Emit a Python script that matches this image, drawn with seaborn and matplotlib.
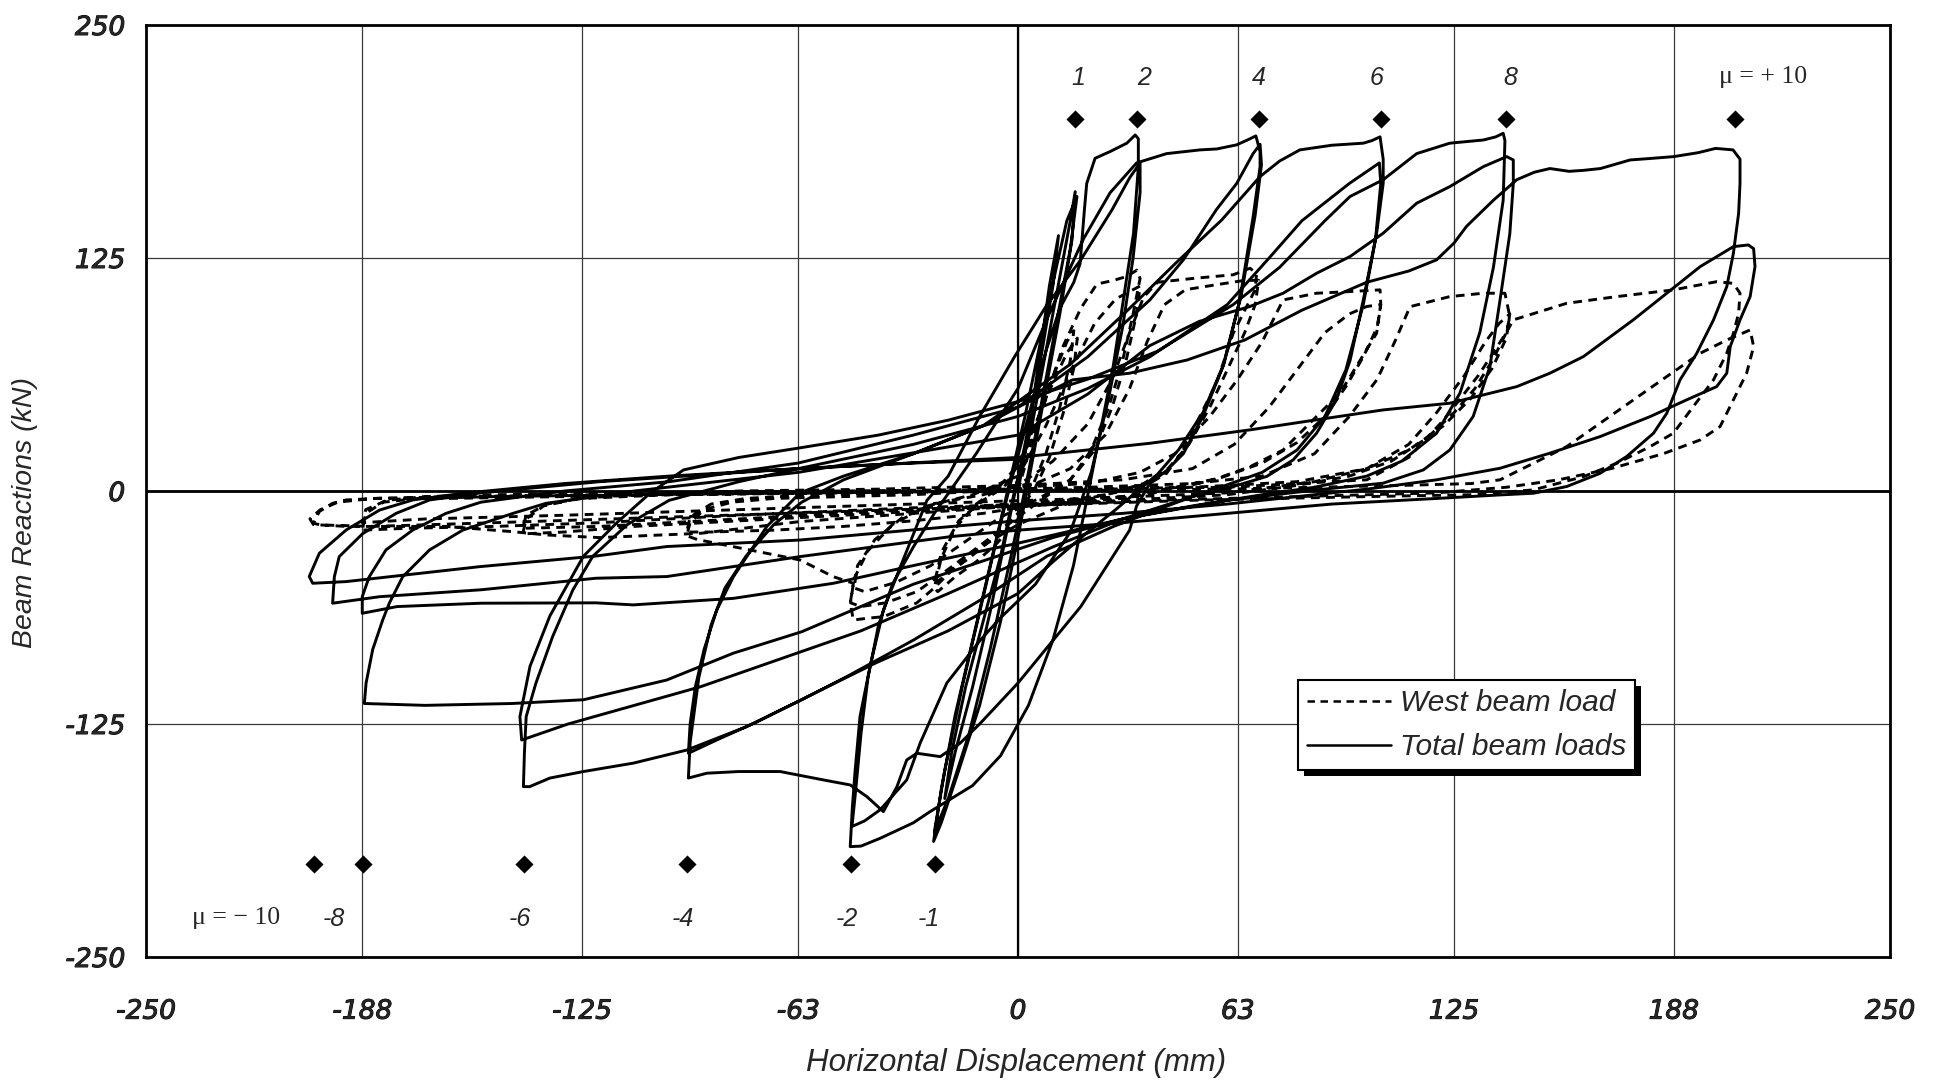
import matplotlib
matplotlib.use("Agg")
import matplotlib.pyplot as plt
import matplotlib.patheffects as pe
import pandas as pd
import seaborn as sns
from matplotlib.lines import Line2D
from matplotlib.patches import Rectangle
from matplotlib.transforms import IdentityTransform

# ---------------- axis values ----------------
x_ticks = [-250, -188, -125, -63, 0, 63, 125, 188, 250]
y_ticks = [-250, -125, 0, 125, 250]

# ductility targets (mm) marked with diamonds
mu_pos_x = [16.4, 34.2, 69.1, 104.1, 139.9, 205.7]
mu_pos_labels = ["1", "2", "4", "6", "8", "\u03bc = + 10"]
mu_neg_x = [-23.8, -48.0, -94.9, -141.7, -187.9, -201.9]
mu_neg_labels = ["-1", "-2", "-4", "-6", "-8", "\u03bc = \u2212 10"]
mu_pos_level = 199.4
mu_neg_level = -200.3

# ---------------- total beam loads (displacement mm, load kN) ----------------
total_mu1 = [
    (0, 0), (3, 30), (6, 70), (9, 110), (11.6, 137), (10, 110), (6, 65), (2, 25), (-3, -20), (-8, -65),
    (-13, -105), (-18, -140), (-21, -165), (-19, -140), (-15, -105), (-10, -70), (-5, -35), (-1, 0),
    (4, 35), (8, 75), (12, 115), (15, 145), (16.4, 160.6), (15.5, 135), (12, 95), (8, 55), (4, 15),
    (0, -25), (-5, -70), (-11, -115), (-17, -150), (-22, -178), (-24.2, -188), (-22, -160), (-18, -120),
    (-13, -80), (-8, -40), (-3, 0), (2, 40), (7, 85), (11, 120), (14, 145), (16.9, 158), (15, 130),
    (11, 90), (7, 50), (3, 10), (-2, -35), (-8, -85), (-14, -130), (-20, -165), (-24, -183),
]
total_mu2 = [
    (-21, -150), (-16, -105), (-11, -65), (-6, -25), (-2, 5), (3, 40), (8, 75), (12, 98), (16, 112),
    (17.8, 122), (19, 150), (19.7, 165), (22.1, 178.5), (26.4, 182.1), (31.2, 186.6), (33.6, 191), (34.5, 189),
    (34.5, 174), (33.1, 138), (30.2, 102.5), (27.3, 67), (23.5, 31), (19.7, -5), (15.9, -40), (10, -80),
    (3, -115), (-5, -142), (-13, -158), (-20, -166), (-25.2, -172), (-30, -178), (-39.5, -186.3),
    (-45, -190.5), (-48.1, -190.8),
    (-47.5, -170), (-46.7, -150), (-45.3, -121), (-42.4, -94), (-38.6, -64), (-33.8, -41), (-26.1, -5), (-20, 8),
    (-11, 40), (-1, 72), (8, 99), (18, 124), (27, 151), (32, 168), (35, 176),
    (35, 160), (33, 125), (30, 88), (26, 50), (21, 10), (15, -22), (5, -50), (-5, -68), (-10.8, -80),
    (-20.4, -103), (-28, -135), (-31.9, -155), (-39.5, -171), (-44, -177), (-47.6, -180),
    (-46.5, -160), (-45, -130), (-43, -100), (-40, -72), (-36, -50), (-30, -30), (-24, -12),
]
total_mu4 = [
    (-12, 20), (0, 55), (8.2, 92), (18.7, 135), (26.4, 160), (34, 176), (42.6, 181), (52.2, 183),
    (57, 183.5), (62.7, 185.7), (66, 188.5), (68.2, 190.5),
    (69.4, 182), (69.4, 174), (67.4, 147), (63.6, 102.5), (58.8, 67), (53, 40), (47.4, 20), (42.6, 11),
    (37.8, 4), (34, -8), (32, -21), (18, -62), (0, -103), (-10.8, -124.6), (-16.6, -135.3), (-22.3, -142.5),
    (-29, -140.7), (-31.9, -144.3), (-34.7, -158.6), (-38.6, -172), (-43.3, -164), (-48.1, -157.7),
    (-55.8, -155), (-68.2, -150.5), (-80, -150.5), (-89.2, -151.4), (-94.5, -154),
    (-94, -135), (-93, -121), (-91.5, -100), (-88, -72), (-84, -52), (-78, -35), (-70, -18), (-62, -6), (-50, 6),
    (-30, 20), (-10, 35), (0, 45), (20, 72), (37.8, 102.5), (47.4, 124), (56.9, 151), (62.7, 165),
    (67.4, 181), (69.4, 186),
    (69.8, 175), (68, 148), (64, 105), (59, 68), (53, 42), (46, 22), (40, 9), (33, -2), (28, -10), (20, -22),
    (10, -38), (0, -55), (-20, -75), (-40.5, -92), (-60, -110), (-75, -124), (-86.4, -133.6), (-94.5, -140.7),
    (-94, -125), (-92.5, -105), (-90, -85), (-86.4, -64), (-81.6, -46), (-72, -19), (-62.5, -1), (-50, 8),
]
total_mu6 = [
    (-30, 20), (-10, 35), (0, 48), (15, 68), (32, 98), (45.2, 122.2), (58.4, 145.4), (69.4, 168.7),
    (75, 177), (80.8, 183), (90, 185.5), (99, 186.6), (101.5, 188), (103.8, 190),
    (104.7, 178), (104.7, 165), (102.8, 138), (99, 102.5), (95.2, 70), (91.3, 49), (85.6, 31), (78.9, 16.7),
    (71.3, 7.8), (61.7, 2.4), (50, -3), (40, -10), (27.4, -19), (8.3, -35), (-10.8, -58.5), (-30, -80),
    (-49.1, -99.6), (-62, -112), (-77.8, -126.4), (-95, -139), (-110.3, -146), (-124.6, -150.5),
    (-134.2, -154), (-140, -158.6), (-141.8, -158.6),
    (-141.5, -140), (-141, -121), (-138.2, -103), (-133.4, -78), (-127.6, -53), (-121.9, -35), (-112, -18),
    (-100, -5), (-80, 5),
    (-63, 12), (-30, 25), (0, 40), (20, 55), (37.8, 72), (60, 100), (72, 125), (81.4, 145), (95, 165), (103.6, 176),
    (104, 165), (102.5, 135), (99, 100), (94, 65), (88, 40), (80, 22), (70, 10), (58, 2), (45, -6), (30, -15),
    (10, -30), (-20, -55), (-45, -75), (-68, -90), (-91, -105), (-110, -115), (-129, -125), (-142.3, -133.6),
    (-142.8, -121), (-139.9, -94), (-134.2, -67), (-124.6, -35), (-115, -17), (-105.5, -1.2), (-95.9, 11.3), (-80, 18),
]
total_mu8 = [
    (-63, 23), (-40, 30), (-20, 38), (0, 48), (20, 60), (40, 75), (61.7, 100), (75, 120), (88, 145),
    (95.2, 158), (104.7, 167), (114.3, 181), (123.8, 186.6), (133.4, 188.3), (137, 190), (139.1, 191.9),
    (139.6, 188), (139.1, 156), (136.3, 120), (132.4, 85), (126.7, 52.5), (120, 31), (110, 16), (100, 8),
    (85, 2), (70, -2), (50, -8), (30, -15), (10, -25), (-30, -50), (-62, -75.5), (-81.6, -87), (-100.7, -101.4),
    (-124.6, -112), (-145, -114), (-170, -115), (-187.4, -114),
    (-186.9, -103), (-185, -85), (-182.1, -69), (-180.2, -60), (-176.4, -46), (-168.7, -31.6), (-159.2, -21),
    (-144.8, -12), (-135.3, -6.6), (-110, 0), (-63, 10),
    (0, 30), (20, 52), (37.8, 78), (52, 91), (66.5, 99), (76, 106.1), (85.6, 116.8), (95.2, 125.8),
    (104.7, 138.3), (114.3, 154.4), (123.8, 163.3), (133.4, 174), (140.1, 179.4), (142, 177.6),
    (142, 165), (141, 138), (138.2, 102.5), (135.3, 66.8), (130.5, 40), (123.8, 22), (116.2, 11.3),
    (104.7, 4.2), (85.6, 0.6), (60, -5), (30, -15), (0, -28), (-30, -40), (-52.9, -49.5), (-81.6, -57.6),
    (-110.3, -61.1), (-121, -60), (-154, -60.2), (-178, -62), (-188, -65.6),
    (-188, -56.7), (-186, -46), (-181.2, -31.6), (-173.5, -20.9), (-164, -12), (-154, -6), (-130, 0),
    (-100, 5), (-63, 15), (-30, 30), (0, 45),
]
total_mu10 = [
    (15.6, 59.6), (32, 63.2), (48.5, 70.3), (65, 81), (81.4, 97), (100, 112), (112, 118), (120, 124),
    (125, 133), (128.6, 142), (136.3, 156), (143, 167), (148, 171), (152.5, 173), (158, 171.5), (162, 172),
    (167, 173), (175.5, 177.6), (182, 178.5), (188, 179.4), (195, 181.5), (200, 183.8), (205, 183), (207, 178),
    (207, 165), (206.6, 149), (205.1, 127.5), (203.2, 109.6), (199.4, 91.8), (194.6, 73.9), (189.8, 59.6), (186, 41.7),
    (182.2, 31), (174.5, 18.5), (166.9, 9.5), (157.3, 2.4), (147.8, -1.2), (138.2, -2.1), (120, -4), (90, -7),
    (60, -12), (30, -17), (0, -21), (-19.4, -24.5), (-62.5, -35.2), (-100.7, -45.9), (-121, -46.8),
    (-154, -53), (-183, -56.7), (-196.5, -60.2),
    (-196, -46), (-194.6, -35.2), (-187.9, -22.9), (-178.3, -12), (-168.7, -4.8), (-154, -1), (-120, 5),
    (-63, 12), (0, 18),
    (37.8, 25.6), (66.5, 32.8), (85.6, 38.2), (104.7, 43.5), (123.8, 47.1), (143, 56), (152.5, 63.2),
    (162.1, 72.1), (176.4, 91.8), (186, 106.1), (195.6, 120.4), (205.1, 131.1), (209.4, 132), (210.9, 130),
    (211.3, 120.4), (209.9, 104.3), (207, 91.8), (204.2, 77.5), (203.2, 63.2), (200.3, 56), (191.7, 48.9),
    (181.2, 39.9), (166.9, 29.2), (152.5, 20.3), (138.2, 12.2), (120, 6), (100, 1), (80, -3), (60, -7),
    (30, -12), (0, -16), (-19.4, -19.1), (-62.5, -26.3), (-100.7, -29.8), (-121, -34.9), (-154.4, -40.6),
    (-192.6, -48.6), (-202.2, -49.5), (-203.2, -45.9),
    (-200.3, -33.4), (-192.6, -20.9), (-183, -10.2), (-173.5, -4.8), (-159, -1.2), (-130, 4), (-100, 8),
    (-63, 12), (-30, 15), (0, 17),
]

# ---------------- west beam load ----------------
west_mu1 = [
    (0, 0), (3, 20), (7, 45), (11, 66), (14, 80), (16, 86), (15, 70), (12, 45), (8, 20), (4, 2), (0, -15),
    (-6, -28), (-12, -38), (-18, -46), (-23, -54), (-24, -52), (-22, -36), (-18, -20), (-12, -7), (-6, 1),
    (0, 14), (5, 36), (10, 58), (14, 74), (17, 82), (16, 66), (13, 42), (9, 18), (5, 2), (0, -12), (-7, -25),
    (-14, -36), (-20, -44), (-24, -50), (-22, -33), (-17, -16), (-10, -5), (-4, 2),
]
west_mu2 = [
    (2, 20), (8, 50), (13, 78), (18, 98), (22.6, 111), (27.4, 113), (31, 115), (34.1, 118.5), (35, 114),
    (33, 95), (30, 70), (26, 45), (21, 22), (15, 6), (8, -3), (0, -14), (-10, -28), (-20, -42), (-29, -54),
    (-38, -60), (-45, -62), (-48, -60), (-47, -47), (-43, -32), (-36, -18), (-26, -8), (-13, -2), (0, 8),
    (8, 35), (15, 64), (22, 90), (28, 103), (35, 110), (34, 95), (31, 70), (27, 45), (22, 22), (15, 6),
    (6, -4), (-5, -14), (-15, -27), (-25, -40), (-35, -49), (-44, -54), (-47, -52), (-46, -40), (-41, -26),
    (-33, -14), (-22, -6), (-10, -2),
]
west_mu4 = [
    (0, 3), (10, 16), (20, 36), (27, 60), (32, 85), (36, 104), (40, 112), (50, 114), (61.7, 116),
    (66.5, 119.5), (68.4, 116.8), (68, 108), (66.5, 102.5), (61.7, 84.6), (56.9, 57.8), (52.1, 40),
    (47.4, 22), (42.6, 9.5), (37.8, 4.2), (30, 0), (15, -6), (0, -18), (-15, -35), (-24, -52), (-29, -60),
    (-38.5, -67.4), (-43.3, -68.3), (-47.2, -69.2), (-48.1, -60.2), (-47.2, -49.5), (-52.9, -46),
    (-62.5, -37), (-81.6, -29.9), (-92, -26), (-95, -24), (-94, -17), (-90, -10), (-82, -6), (-70, -4),
    (-50, -3), (-30, -2), (-10, 0), (5, 4), (15, 12), (25, 30), (32, 55), (37, 80), (42, 100), (48, 108),
    (58, 111), (65, 113), (69, 113), (68, 100), (65, 85), (60, 65), (55, 45), (49, 25), (43, 12), (36, 4),
    (25, -2), (10, -6), (-10, -12), (-30, -16), (-50, -19), (-70, -21), (-88, -22), (-95, -22), (-94, -14),
    (-88, -7), (-78, -4), (-60, -2), (-40, -1),
]
west_mu6 = [
    (-20, 0), (0, 2), (20, 4), (35, 10), (45, 20), (55, 40), (63, 60), (70, 80), (76, 102.5), (85.6, 106.1),
    (95.2, 107), (103.8, 107.9), (104, 100), (102.8, 84.6), (97, 66.8), (92.3, 52.5), (85.6, 40), (76, 22),
    (66.5, 13), (56, 6), (45, 1), (30, -4), (0, -8), (-40, -12), (-80, -16), (-110, -19), (-130, -22),
    (-142, -23), (-141, -15), (-136, -8), (-126, -4), (-110, -2), (-80, 0), (-40, 1), (0, 3), (30, 6),
    (50, 12), (62, 25), (72, 45), (80, 65), (88, 85), (95, 95), (100, 99), (104, 100), (103, 88), (99, 72),
    (94, 56), (88, 40), (80, 26), (70, 15), (58, 7), (45, 2), (30, -3), (0, -7), (-40, -11), (-80, -15),
    (-120, -19), (-142, -20), (-141, -13), (-135, -7), (-125, -4), (-100, -2),
]
west_mu8 = [
    (-60, -1), (-20, 0), (20, 2), (50, 4), (70, 8), (85, 20), (95, 40), (103, 60), (108, 80), (112.4, 98.9),
    (123.8, 104.3), (133.4, 106.1), (139.6, 106.1), (141, 93.6), (140, 85), (136, 70), (131, 55), (125, 42),
    (117, 28), (107, 16), (95, 8), (80, 3), (60, -2), (20, -6), (-30, -9), (-80, -13), (-120, -17),
    (-150, -19), (-175, -20), (-188, -21), (-187, -12), (-182, -6), (-172, -4), (-150, -3), (-110, -2),
    (-60, -1), (0, 0), (50, 2), (80, 5), (100, 12), (112, 25), (120, 42), (128, 62), (134, 80), (138, 90),
    (141, 95), (140, 82), (136, 66), (130, 50), (122, 35), (112, 22), (100, 12), (85, 5), (60, -1), (20, -4),
    (-30, -7), (-80, -10), (-130, -13), (-170, -15), (-188, -17), (-187, -10), (-181, -5), (-170, -3), (-150, -2),
]
west_mu10 = [
    (-110, -1), (-50, 0), (0, 1), (60, 2), (100, 6), (112, 18), (122, 38), (132, 62), (140, 85), (142, 91.8),
    (157.3, 100.7), (171.7, 104.3), (187.9, 107.9), (200.3, 112.3), (205.1, 111.4), (207, 106.1),
    (206.6, 95.3), (205.1, 84.6), (203.2, 73.9), (199.4, 59.6), (193.6, 45.3), (187.9, 31), (181.2, 23.8),
    (171.7, 14.9), (162.1, 7.7), (147.8, 0.6), (130, -2), (100, -3), (50, -5), (0, -8), (-50, -11),
    (-100, -14), (-150, -17), (-185, -19), (-200, -18.2), (-202, -17.3), (-200.3, -11), (-196.5, -6.6),
    (-192.6, -4.8), (-183, -3.9), (-164, -4), (-130, -3), (-100, -2), (-50, -1), (0, 0), (60, 1), (110, 3),
    (130, 4), (138.2, 6), (147.8, 14.9), (157.3, 23.8), (166.9, 36.4), (176.4, 48.9), (186, 61.4),
    (195.6, 73.9), (203.2, 81), (209.9, 86.4), (210.9, 77.5), (208.9, 63.2), (205.1, 48.9), (201.3, 34.6),
    (195.6, 27.4), (185, 20), (170, 12), (155, 6), (140, 2), (120, -1), (80, -3), (40, -5), (0, -8),
    (-30, -12), (-62.5, -16.4), (-91, -22.7), (-120, -25), (-135, -23.6), (-145, -21.8), (-164, -19),
    (-192.6, -19), (-202, -18), (-203, -15), (-200, -10), (-195, -6), (-185, -4), (-160, -3), (-120, -2),
]


def as_frame(*blocks):
    pts = [p for block in blocks for p in block]
    return pd.DataFrame({"disp": [p[0] for p in pts], "load": [p[1] for p in pts]})


total_df = as_frame(total_mu1, total_mu2, total_mu4, total_mu6, total_mu8, total_mu10)
west_df = as_frame(west_mu1, west_mu2, west_mu4, west_mu6, west_mu8, west_mu10)

# ---------------- styling ----------------
sns.set_theme(style="white")
plt.rcParams["font.family"] = ["Liberation Sans", "DejaVu Sans"]
plt.rcParams["axes.unicode_minus"] = False

W, H = 1939, 1087
fig = plt.figure(figsize=(W / 100, H / 100), dpi=100)
fig.patch.set_facecolor("white")
ax = fig.add_axes([146 / W, 1 - 957 / H, 1744 / W, 932 / H])
ax.set_facecolor("white")

DASH = (0, (3.0, 2.2))
LW = 2.1
sns.lineplot(data=west_df, x="disp", y="load", sort=False, estimator=None,
             color="black", lw=LW, linestyle=DASH, ax=ax, zorder=3)
sns.lineplot(data=total_df, x="disp", y="load", sort=False, estimator=None,
             color="black", lw=LW, ax=ax, zorder=3)

# ductility markers
sns.scatterplot(x=mu_pos_x, y=[mu_pos_level] * len(mu_pos_x), marker="D", s=85,
                color="black", edgecolor="black", linewidth=0, ax=ax, zorder=4)
sns.scatterplot(x=mu_neg_x, y=[mu_neg_level] * len(mu_neg_x), marker="D", s=85,
                color="black", edgecolor="black", linewidth=0, ax=ax, zorder=4)

pos_text_x = [17.2, 36.2, 69.1, 102.8, 141.0, 213.5]
neg_text_x = [-25.5, -49.2, -96.1, -142.7, -196.2, -224.2]
for xv, lab in zip(pos_text_x, mu_pos_labels):
    if lab.startswith("\u03bc"):
        ax.text(xv, 222, lab, ha="center", va="center", fontsize=18.5, family="Liberation Serif")
    else:
        ax.text(xv, 221.5, lab, ha="center", va="center", fontsize=18, style="italic")
for xv, lab in zip(neg_text_x, mu_neg_labels):
    if lab.startswith("\u03bc"):
        ax.text(xv, -229, lab, ha="center", va="center", fontsize=18.5, family="Liberation Serif")
    else:
        ax.text(xv, -229.5, lab, ha="center", va="center", fontsize=18, style="italic")

# axes, grid
ax.set_xlim(-250, 250)
ax.set_ylim(-250, 250)
ax.set_xticks(x_ticks)
ax.set_yticks(y_ticks)
ax.set_xticklabels([str(v) for v in x_ticks])
ax.set_yticklabels([str(v) for v in y_ticks])
ax.set_axisbelow(True)
ax.grid(True, color="#3a3a3a", lw=0.9)
ax.axhline(0, color="black", lw=2.0, zorder=1.5)
ax.axvline(0, color="black", lw=1.6, zorder=1.5)
for sp in ax.spines.values():
    sp.set_visible(True)
    sp.set_color("black")
    sp.set_linewidth(2.0)
ax.tick_params(axis="both", length=0)
ax.tick_params(axis="x", pad=30)
ax.tick_params(axis="y", pad=15)
semi_bold = [pe.withStroke(linewidth=0.7, foreground="black")]
for lab in ax.get_xticklabels() + ax.get_yticklabels():
    lab.set_family("DejaVu Sans")
    lab.set_style("italic")
    lab.set_fontsize(19)
    lab.set_path_effects(semi_bold)
ax.set_xlabel("")
ax.set_ylabel("")

fig.text(1016 / W, 1 - 1063 / H, "Horizontal Displacement (mm)", ha="center", va="center",
         fontsize=22.5, style="italic")
fig.text(25 / W, 1 - 513 / H, "Beam Reactions (kN)", ha="center", va="center",
         rotation=90, fontsize=20.5, style="italic")

# legend with a solid drop shadow
handles = [Line2D([], [], color="black", lw=1.8, linestyle=DASH),
           Line2D([], [], color="black", lw=1.8)]
leg = ax.legend(handles, ["West beam load", "Total beam loads"], loc="upper left",
                bbox_to_anchor=(0.6606, 0.2972), borderaxespad=0, frameon=True, fancybox=False,
                edgecolor="black", framealpha=1, facecolor="white",
                prop={"family": "Liberation Sans", "style": "italic", "size": 21.5},
                handlelength=2.8, handletextpad=0.3, labelspacing=0.55, borderpad=0.3)
leg.get_frame().set_linewidth(1.5)
leg.set_zorder(6)

fig.canvas.draw()
bb = leg.get_window_extent()
shadow = Rectangle((bb.x0 + 6, bb.y0 - 6), bb.width, bb.height, transform=IdentityTransform(),
                   facecolor="black", edgecolor="none", zorder=5.9, clip_on=False)
ax.add_patch(shadow)

fig.savefig("out.png", dpi=100, facecolor="white")
